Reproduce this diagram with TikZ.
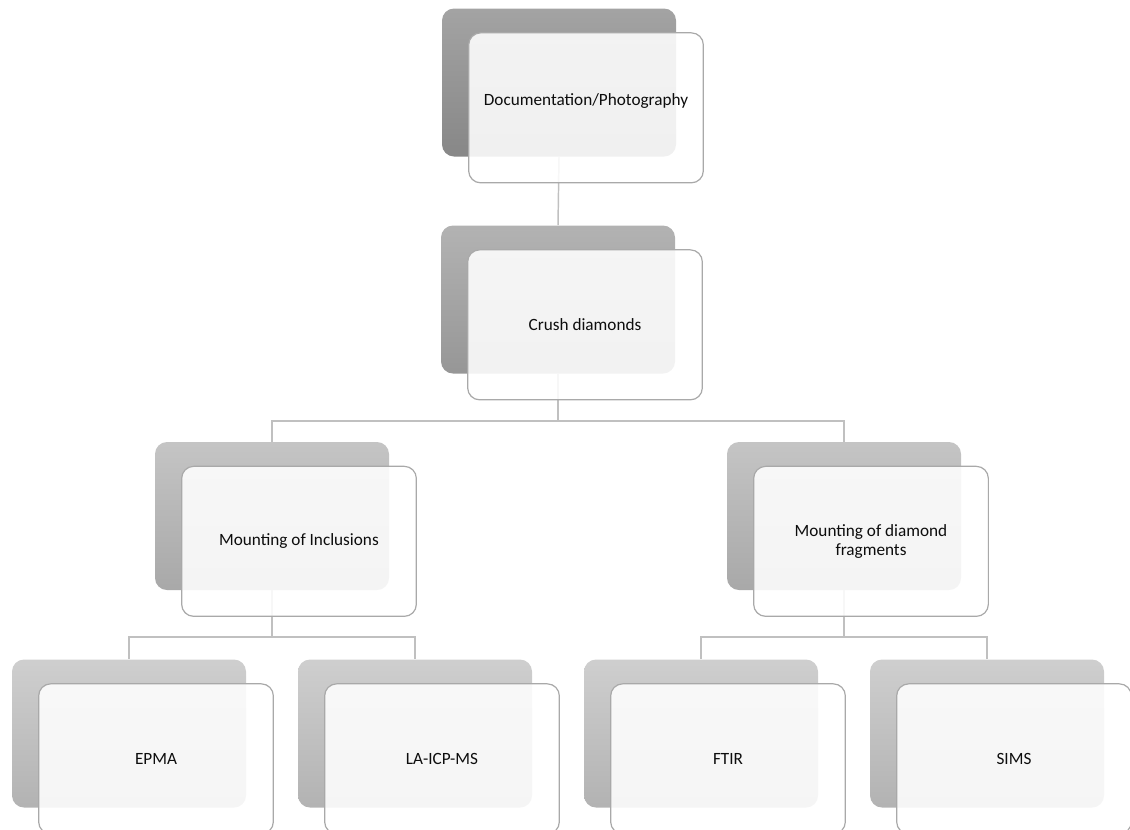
\documentclass[tikz,border=0pt]{standalone}
\usepackage{fontspec}
\setmainfont{Carlito}
\usetikzlibrary{positioning}

\definecolor{linkgray}{HTML}{C0C0C0}
\definecolor{edgegray}{HTML}{A9A9A9}
\definecolor{inkblack}{HTML}{0D0D0D}

\tikzset{
  back/.style={rectangle, rounded corners=9pt, minimum width=175.5pt, minimum height=111pt, draw=none},
  front/.style={rectangle, rounded corners=9pt, minimum width=176pt, minimum height=112.5pt,
    draw=edgegray, line width=0.9pt, fill=white, fill opacity=0.88, text opacity=1,
    text=inkblack, align=center, font=\fontsize{12.9}{14.6}\selectfont,
    xshift=20.25pt, yshift=-19pt},
  tone1/.style={back, top color=black!36, bottom color=black!47},
  tone2/.style={back, top color=black!30, bottom color=black!41},
  tone3/.style={back, top color=black!23, bottom color=black!34},
  tone4/.style={back, top color=black!19, bottom color=black!30},
  link/.style={draw=linkgray, line width=1.1pt}
}

\begin{document}
\begin{tikzpicture}[x=0.75pt, y=-0.75pt]
    \useasboundingbox (0,0) rectangle (1130,829);

    % back boxes
    \node[tone1] (docB) at (559,82.5) {};
    \node[tone2] (crushB) at (558,299.5) {};
    \node[tone3] (inclB) at (272,516) {};
    \node[tone3] (fragB) at (844,516) {};
    \node[tone4] (epmaB) at (129,733.5) {};
    \node[tone4] (laB) at (415,733.5) {};
    \node[tone4] (ftirB) at (701,733.5) {};
    \node[tone4] (simsB) at (987,733.5) {};

    % connectors
    \coordinate (crushJ) at (558,421);
    \coordinate (inclJ) at (272,637);
    \coordinate (fragJ) at (844,637);
    \draw[link] (docB.south) -- (crushB.north);
    \draw[link] (crushB.south) -- (crushJ) -| (inclB.north);
    \draw[link] (crushJ) -| (fragB.north);
    \draw[link] (inclB.south) -- (inclJ) -| (epmaB.north);
    \draw[link] (inclJ) -| (laB.north);
    \draw[link] (fragB.south) -- (fragJ) -| (ftirB.north);
    \draw[link] (fragJ) -| (simsB.north);

    % front boxes
    \node[front] (docF) at (docB) {Documentation/Photography\\[-2.6pt]};
    \node[front] (crushF) at (crushB) {Crush diamonds};
    \node[front] (inclF) at (inclB) {Mounting of Inclusions};
    \node[front] (fragF) at (fragB) {Mounting of diamond\\fragments};
    \node[front] (epmaF) at (epmaB) {EPMA};
    \node[front] (laF) at (laB) {LA-ICP-MS};
    \node[front] (ftirF) at (ftirB) {FTIR};
    \node[front] (simsF) at (simsB) {SIMS};
\end{tikzpicture}
\end{document}
